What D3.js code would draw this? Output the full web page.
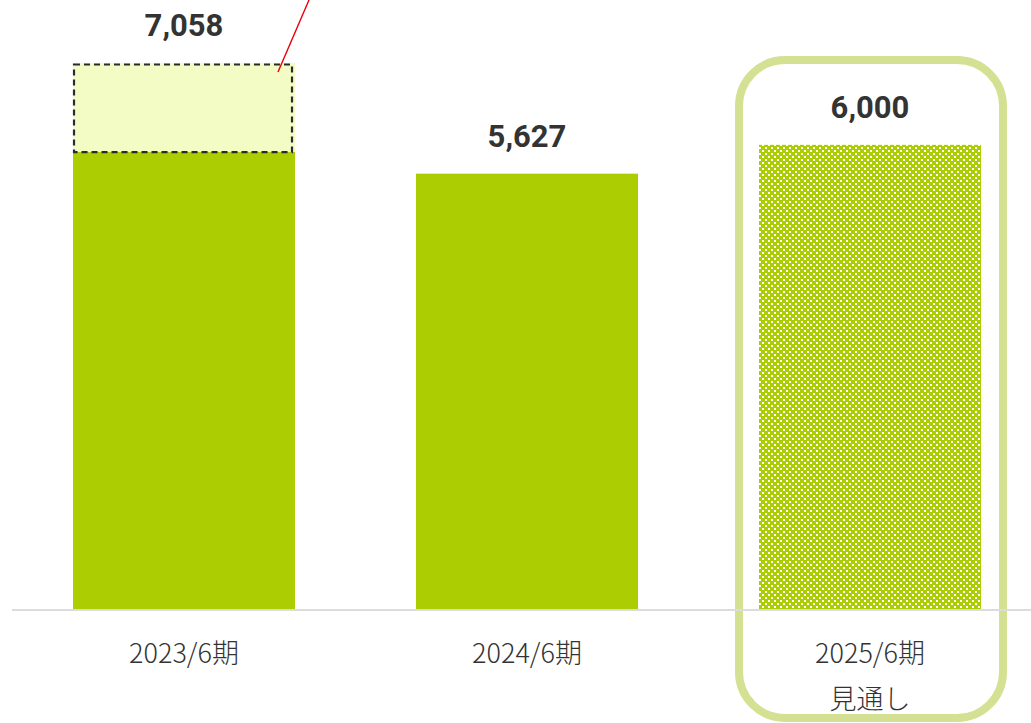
<!DOCTYPE html>
<html>
<head>
<meta charset="utf-8">
<script src="https://cdn.jsdelivr.net/npm/d3@7"></script>
<style>
  body { margin: 0; background: #fff; }
  svg { display: block; }
</style>
</head>
<body>
<div id="chart"></div>
<script>
// data
const periods = ["2023/6期", "2024/6期", "2025/6期"];
const subLabels = ["", "", "見通し"];
const totals = [7058, 5627, 6000];
const baseValues = [5907, 5627, 6000];   // dark part of the first bar
const forecast = [false, false, true];

const width = 1031;
const height = 723;
const baseY = 609;

const svg = d3.select('#chart').append('svg')
    .attr('width', width)
    .attr('height', height);

const defs = svg.append('defs');
const pat = defs.append('pattern')
    .attr('id', 'dots')
    .attr('patternUnits', 'userSpaceOnUse')
    .attr('width', 6)
    .attr('height', 6);
pat.append('rect').attr('width', 6).attr('height', 6).attr('fill', '#adcd03');
pat.append('rect').attr('x', 0).attr('y', 0).attr('width', 2).attr('height', 2).attr('fill', '#fff');
pat.append('rect').attr('x', 3).attr('y', 3).attr('width', 2).attr('height', 2).attr('fill', '#fff');

const x = d3.scaleBand()
    .domain(periods)
    .range([12.5, 1041.5])
    .paddingInner(0.3528)
    .paddingOuter(0.1764);

const y = d3.scaleLinear()
    .domain([0, 7058])
    .range([baseY, 63]);

const g = svg.append('g');

// highlight frame for forecast
const last = periods[2];
g.append('rect')
    .attr('x', x(last) - 20)
    .attr('y', 60)
    .attr('width', x.bandwidth() + 42)
    .attr('height', 658)
    .attr('rx', 46)
    .attr('fill', 'none')
    .attr('stroke', '#d4e192')
    .attr('stroke-width', 8);

// full bars (light top)
g.selectAll('rect.total')
    .data(periods)
    .enter()
    .append('rect')
    .attr('class', 'total')
    .attr('x', d => x(d))
    .attr('y', (d, i) => y(totals[i]))
    .attr('width', x.bandwidth())
    .attr('height', (d, i) => baseY - y(totals[i]))
    .attr('fill', (d, i) => forecast[i] ? 'url(#dots)' : '#f3fcc4');

// dark base bars
g.selectAll('rect.base')
    .data(periods.filter((d, i) => !forecast[i]))
    .enter()
    .append('rect')
    .attr('class', 'base')
    .attr('x', d => x(d))
    .attr('y', (d, i) => y(baseValues[i]))
    .attr('width', x.bandwidth())
    .attr('height', (d, i) => baseY - y(baseValues[i]))
    .attr('fill', '#adcd03');

// dashed box on the first bar
const first = periods[0];
g.append('rect')
    .attr('x', x(first) + 1)
    .attr('y', y(totals[0]) + 1.5)
    .attr('width', x.bandwidth() - 4)
    .attr('height', y(baseValues[0]) - y(totals[0]) - 1.5)
    .attr('fill', 'none')
    .attr('stroke', '#2b2b2b')
    .attr('stroke-width', 2.2)
    .attr('stroke-dasharray', '6,4');

// red pointer line
g.append('line')
    .attr('x1', x(first) + x.bandwidth() - 17)
    .attr('y1', y(totals[0]) + 9)
    .attr('x2', x(first) + x.bandwidth() + 14)
    .attr('y2', 0)
    .attr('stroke', '#e8000b')
    .attr('stroke-width', 1.4);

// baseline
g.append('line')
    .attr('x1', 12)
    .attr('x2', width)
    .attr('y1', baseY + 1)
    .attr('y2', baseY + 1)
    .attr('stroke', '#dcdcdc')
    .attr('stroke-width', 2);

// value labels
g.selectAll('text.value')
    .data(periods)
    .enter()
    .append('text')
    .attr('class', 'value')
    .attr('x', d => x(d) + x.bandwidth() / 2)
    .attr('y', (d, i) => y(totals[i]) - 27)
    .attr('text-anchor', 'middle')
    .style('font-family', 'Roboto, "Noto Sans", sans-serif')
    .style('font-weight', 'bold')
    .style('font-size', '31px')
    .style('fill', '#333')
    .text((d, i) => d3.format(',')(totals[i]));

// category labels
g.selectAll('text.cat')
    .data(periods)
    .enter()
    .append('text')
    .attr('class', 'cat')
    .attr('x', d => x(d) + x.bandwidth() / 2)
    .attr('y', 663)
    .attr('text-anchor', 'middle')
    .style('font-family', '"Noto Sans CJK JP", sans-serif')
    .style('font-weight', 300)
    .style('font-size', '27px')
    .style('fill', '#333')
    .text(d => d);

g.selectAll('text.sub')
    .data(periods)
    .enter()
    .append('text')
    .attr('class', 'sub')
    .attr('x', d => x(d) + x.bandwidth() / 2)
    .attr('y', 709)
    .attr('text-anchor', 'middle')
    .style('font-family', '"Noto Sans CJK JP", sans-serif')
    .style('font-weight', 300)
    .style('font-size', '27px')
    .style('fill', '#333')
    .text((d, i) => subLabels[i]);
</script>
</body>
</html>
